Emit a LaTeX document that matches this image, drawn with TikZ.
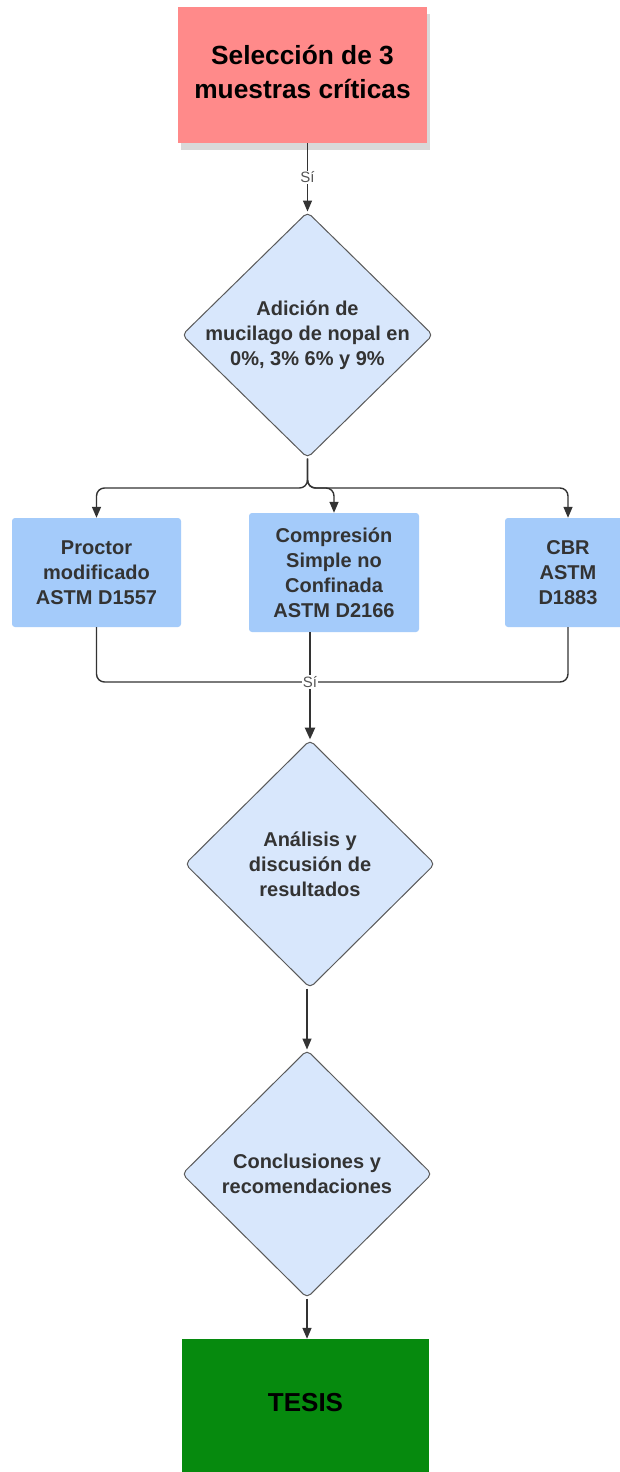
\documentclass[tikz,border=0pt]{standalone}
\usepackage{fontspec}
\setmainfont{Liberation Sans}
\usetikzlibrary{shapes.geometric,arrows.meta,shadows}
\definecolor{pinkbox}{HTML}{FF8A8A}
\definecolor{dfill}{HTML}{D8E7FC}
\definecolor{bfill}{HTML}{A4CBFA}
\definecolor{gfill}{HTML}{068A0E}
\definecolor{lcol}{HTML}{333333}
\definecolor{dborder}{HTML}{5A5A5A}
\definecolor{tcol}{HTML}{333333}
\definecolor{lblcol}{HTML}{555555}
\tikzset{
  topbox/.style={rectangle, fill=pinkbox, draw=none, align=center, inner sep=0pt,
    font=\fontsize{26.3}{34}\selectfont\bfseries, text=black,
    drop shadow={shadow xshift=3pt, shadow yshift=-7pt, opacity=0.15, fill=black}},
  dshape/.style={diamond, fill=dfill, draw=dborder, line width=1pt, rounded corners=5pt, inner sep=0pt},
  dtext/.style={align=center, font=\fontsize{20}{25}\selectfont\bfseries, text=tcol, inner sep=0pt},
  testbox/.style={rectangle, fill=bfill, draw=none, rounded corners=3pt, align=center, inner sep=0pt,
    font=\fontsize{20}{25}\selectfont\bfseries, text=tcol},
  endbox/.style={rectangle, fill=gfill, draw=none, inner sep=0pt},
  endtext/.style={font=\fontsize{26}{30}\selectfont\bfseries, text=black, inner sep=0pt},
  conn/.style={draw=lcol, line width=1.4pt},
  arr/.style={conn, -{Triangle[length=11pt,width=9pt]}},
  arrthick/.style={draw=lcol, line width=2.4pt, -{Triangle[length=12pt,width=10pt]}},
  lbl/.style={fill=white, text=lblcol, font=\fontsize{15}{17}\selectfont, inner sep=1pt}
}
\begin{document}
\begin{tikzpicture}[x=1pt,y=-1pt]
\path[use as bounding box, fill=white] (0,0) rectangle (620,1472);

% nodes
\node[topbox, minimum width=249pt, minimum height=136pt] (sel) at (302.5,75) {};
\node[align=center, inner sep=0pt, font=\fontsize{26.3}{34}\selectfont\bfseries] (selt) at (302.5,72) {Selección de 3\\muestras críticas};
\node[dshape, minimum width=251pt, minimum height=246pt] (d1) at (307.5,335) {};
\node[dtext] (d1t) at (d1.center) {Adición de\\mucilago de nopal en\\0\%, 3\% 6\% y 9\%};

\node[testbox, minimum width=169pt, minimum height=109pt] (prc) at (96.5,572.5) {Proctor\\modificado\\ASTM D1557};
\node[testbox, minimum width=170pt, minimum height=119pt] (cmp) at (334,572.5) {Compresión\\Simple no\\Confinada\\ASTM D2166};
\node[testbox, minimum width=126pt, minimum height=109pt] (cbr) at (568,572.5) {CBR\\ASTM\\D1883};

\node[dshape, minimum width=250pt, minimum height=248pt] (d2) at (310,864) {};
\node[dtext] (d2t) at (d2.center) {Análisis y\\discusión de\\resultados};

\node[dshape, minimum width=250pt, minimum height=248pt] (d3) at (307,1174) {};
\node[dtext] (d3t) at (d3.center) {Conclusiones y\\recomendaciones};

\node[endbox, minimum width=247pt, minimum height=140pt] (tes) at (305.5,1409) {};
\node[endtext] (test) at (305.5,1403) {TESIS};

% coordinates
\coordinate (br) at (307.5,488);
\coordinate (mj) at (310,682);

% connectors
\draw[arr] (d1.north |- sel.south) -- node[lbl] (s1) {Sí} (d1.north);

\draw[arr, rounded corners=8pt] (d1.south) -- (br) -| (prc.north);
\draw[arr, rounded corners=8pt] (d1.south) -- (br) -| (cbr.north);
\draw[arr, rounded corners=8pt] (d1.south) -- (br) -| (cmp.north);

\draw[conn, rounded corners=8pt] (prc.south) |- (mj) -| (cbr.south);
\draw[conn] (cmp.south -| mj) -- (mj);
\draw[arrthick] (mj) -- (d2.north);
\node[lbl] (s2) at (mj) {Sí};

\draw[arr] (d3.north |- d2.south) -- (d3.north);
\draw[arr] (d3.south) -- (d3.south |- tes.north);
\end{tikzpicture}
\end{document}
